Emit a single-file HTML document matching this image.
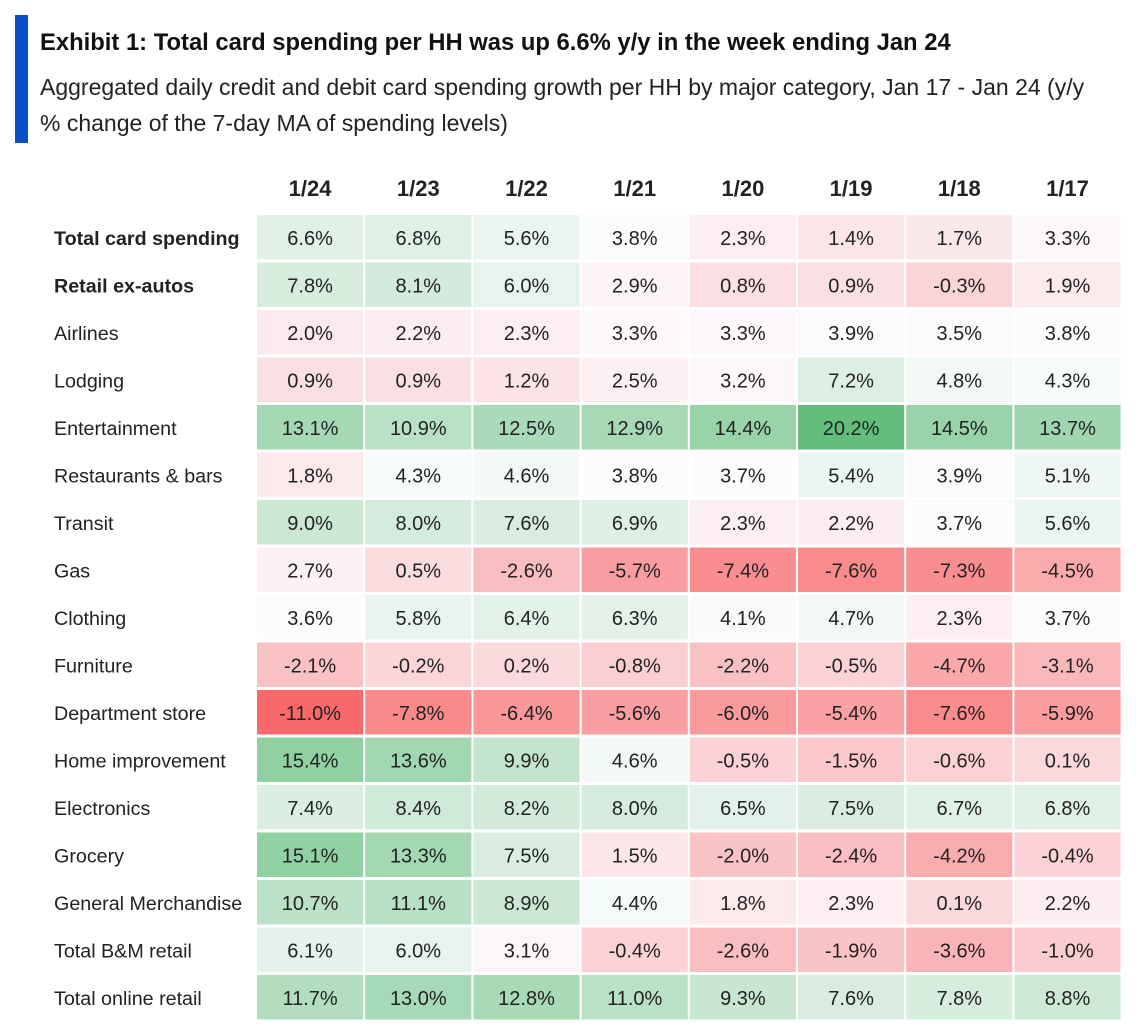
<!DOCTYPE html>
<html><head><meta charset="utf-8">
<style>
html,body{margin:0;padding:0;background:#fff;}
body{width:1142px;height:1036px;overflow:hidden;font-family:"Liberation Sans",sans-serif;position:relative;}
.bar{position:absolute;left:15px;top:15px;width:13px;height:128px;background:#0a4fc9;}
.title{position:absolute;left:40px;top:29px;font-size:23.8px;font-weight:bold;color:#111;white-space:nowrap;}
.sub{position:absolute;left:40px;top:69px;width:1060px;font-size:23px;line-height:36px;color:#222;}
svg{position:absolute;left:0;top:0;}
</style></head><body>
<div class="bar"></div>
<div class="title">Exhibit 1: Total card spending per HH was up 6.6% y/y in the week ending Jan 24</div>
<div class="sub">Aggregated daily credit and debit card spending growth per HH by major category, Jan 17 - Jan 24 (y/y % change of the 7-day MA of spending levels)</div>
<svg id="chart" width="1142" height="1036"></svg>
<script>
const dates = ["1/24","1/23","1/22","1/21","1/20","1/19","1/18","1/17"];
const rowLabels = ["Total card spending","Retail ex-autos","Airlines","Lodging","Entertainment","Restaurants & bars","Transit","Gas","Clothing","Furniture","Department store","Home improvement","Electronics","Grocery","General Merchandise","Total B&M retail","Total online retail"];
const boldRows = [true,true,false,false,false,false,false,false,false,false,false,false,false,false,false,false,false];
const values = [
[6.6,6.8,5.6,3.8,2.3,1.4,1.7,3.3],
[7.8,8.1,6.0,2.9,0.8,0.9,-0.3,1.9],
[2.0,2.2,2.3,3.3,3.3,3.9,3.5,3.8],
[0.9,0.9,1.2,2.5,3.2,7.2,4.8,4.3],
[13.1,10.9,12.5,12.9,14.4,20.2,14.5,13.7],
[1.8,4.3,4.6,3.8,3.7,5.4,3.9,5.1],
[9.0,8.0,7.6,6.9,2.3,2.2,3.7,5.6],
[2.7,0.5,-2.6,-5.7,-7.4,-7.6,-7.3,-4.5],
[3.6,5.8,6.4,6.3,4.1,4.7,2.3,3.7],
[-2.1,-0.2,0.2,-0.8,-2.2,-0.5,-4.7,-3.1],
[-11.0,-7.8,-6.4,-5.6,-6.0,-5.4,-7.6,-5.9],
[15.4,13.6,9.9,4.6,-0.5,-1.5,-0.6,0.1],
[7.4,8.4,8.2,8.0,6.5,7.5,6.7,6.8],
[15.1,13.3,7.5,1.5,-2.0,-2.4,-4.2,-0.4],
[10.7,11.1,8.9,4.4,1.8,2.3,0.1,2.2],
[6.1,6.0,3.1,-0.4,-2.6,-1.9,-3.6,-1.0],
[11.7,13.0,12.8,11.0,9.3,7.6,7.8,8.8]
];
const NS="http://www.w3.org/2000/svg";
const svg=document.getElementById('chart');
const x0=256, colW=108.2, y0=214, rowH=47.5;
const xPos=i=>x0+i*colW;
const yPos=j=>y0+j*rowH;
const all=values.flat();
const vmin=Math.min(...all), vmax=Math.max(...all), vmid=3.7;
function mix(a,b,t){return a.map((c,i)=>Math.round(c+(b[i]-c)*t));}
function color(v){
  const red=[248,105,107], wht=[252,252,255], grn=[99,190,123];
  let c = v<vmid ? mix(wht,red,(vmid-v)/(vmid-vmin)) : mix(wht,grn,(v-vmid)/(vmax-vmid));
  return `rgb(${c[0]},${c[1]},${c[2]})`;
}
function t(x,y,s,opt){
  const e=document.createElementNS(NS,'text');
  e.setAttribute('x',x);e.setAttribute('y',y);
  e.setAttribute('font-family','"Liberation Sans",sans-serif');
  e.setAttribute('font-size',opt.size||20);
  e.setAttribute('fill','#222');
  if(opt.bold)e.setAttribute('font-weight','bold');
  if(opt.anchor)e.setAttribute('text-anchor',opt.anchor);
  e.textContent=s;svg.appendChild(e);return e;
}
dates.forEach((d,i)=>{
  const e=t(xPos(i)+colW/2,196,d,{size:22,bold:true,anchor:'middle'});
  
  
});
rowLabels.forEach((lab,j)=>{
  const e=t(54,yPos(j)+rowH/2+7,lab,{size:19.7,bold:boldRows[j]});
  
  
  values[j].forEach((v,i)=>{
    const r=document.createElementNS(NS,'rect');
    r.setAttribute('x',xPos(i)+1);r.setAttribute('y',yPos(j)+1);
    r.setAttribute('width',colW-2);r.setAttribute('height',rowH-3);
    r.setAttribute('fill',color(v));
    
    
    svg.appendChild(r);
    const c=t(xPos(i)+colW/2,yPos(j)+rowH/2+7,v.toFixed(1)+'%',{size:20,anchor:'middle'});
    
    
  });
});
</script>
</body></html>
